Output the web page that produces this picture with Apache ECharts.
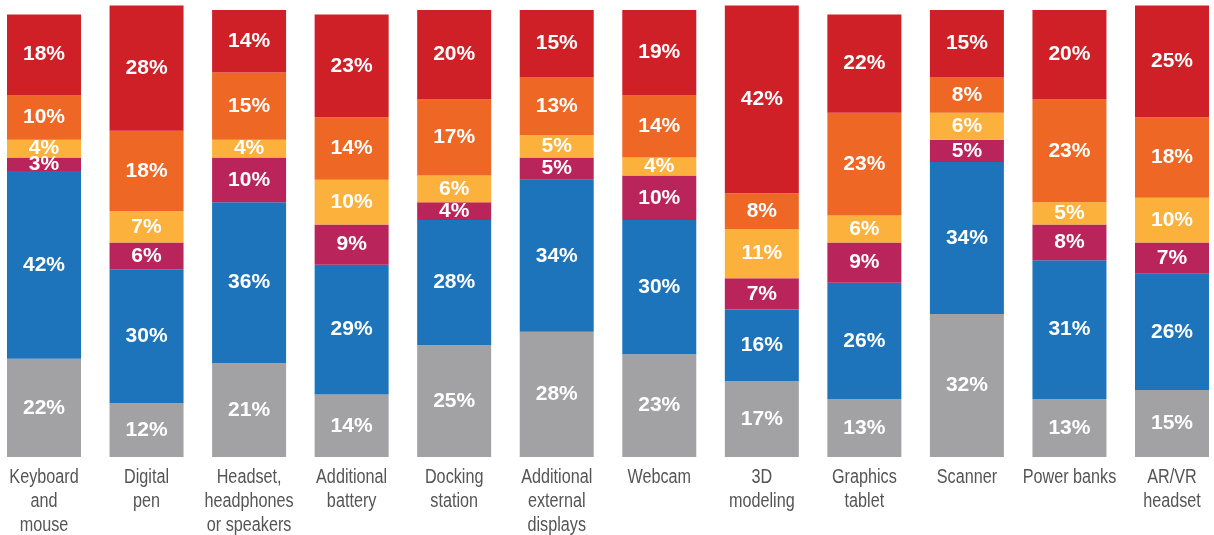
<!DOCTYPE html>
<html>
<head>
<meta charset="utf-8">
<style>
  html, body { margin: 0; padding: 0; background: #ffffff; overflow: hidden; }
  #chart { width: 1214px; height: 535px; }
</style>
<script src="https://cdn.jsdelivr.net/npm/echarts@6/dist/echarts.min.js"></script>
</head>
<body>
<div id="chart"></div>
<script>
// Accessory categories (x axis)
const categories = [
  'Keyboard\nand\nmouse', 'Digital\npen', 'Headset,\nheadphones\nor speakers',
  'Additional\nbattery', 'Docking\nstation', 'Additional\nexternal\ndisplays',
  'Webcam', '3D\nmodeling', 'Graphics\ntablet', 'Scanner', 'Power banks', 'AR/VR\nheadset'
];

// Shares (%) per segment, bottom to top of each stack
const greyShare    = [22, 12, 21, 14, 25, 28, 23, 17, 13, 32, 13, 15];
const blueShare    = [42, 30, 36, 29, 28, 34, 30, 16, 26, 34, 31, 26];
const crimsonShare = [3, 6, 10, 9, 4, 5, 10, 7, 9, 5, 8, 7];
const yellowShare  = [4, 7, 4, 10, 6, 5, 4, 11, 6, 6, 5, 10];
const orangeShare  = [10, 18, 15, 14, 17, 13, 14, 8, 23, 8, 23, 18];
const redShare     = [18, 28, 14, 23, 20, 15, 19, 42, 22, 15, 20, 25];

const segments = [
  { name: 'grey',    data: greyShare,    color: '#A2A2A5' },
  { name: 'blue',    data: blueShare,    color: '#1D74BB' },
  { name: 'crimson', data: crimsonShare, color: '#B9255A' },
  { name: 'yellow',  data: yellowShare,  color: '#FBB13C' },
  { name: 'orange',  data: orangeShare,  color: '#EE6724' },
  { name: 'red',     data: redShare,     color: '#CF2028' }
];

const chart = echarts.init(document.getElementById('chart'), null, { renderer: 'canvas' });

chart.setOption({
  animation: false,
  // first and last category centres sit on the grid edges (boundaryGap: false)
  grid: { left: 44, right: 42, top: 10, height: 447, containLabel: false },
  xAxis: {
    type: 'category',
    data: categories,
    boundaryGap: false,
    axisLine: { show: false },
    axisTick: { show: false },
    splitLine: { show: false },
    axisLabel: { show: false }
  },
  yAxis: {
    type: 'value',
    min: 0,
    max: 100,
    show: false,
    splitLine: { show: false }
  },
  series: segments.map(s => ({
    name: s.name,
    type: 'bar',
    stack: 'share',
    barWidth: 74,
    clip: false,
    data: s.data,
    itemStyle: { color: s.color },
    label: {
      show: true,
      position: 'inside',
      formatter: '{c}%',
      color: '#ffffff',
      fontFamily: '"Liberation Sans", Arial, sans-serif',
      fontWeight: 'bold',
      fontSize: 21
    }
  }))
});

// Category names in a condensed style: text placed under each category
// position from the axis scale and squeezed horizontally.
const baseY = chart.convertToPixel({ yAxisIndex: 0 }, 0);
chart.setOption({
  graphic: categories.map((name, i) => ({
    type: 'text',
    x: chart.convertToPixel({ xAxisIndex: 0 }, i),
    y: baseY + 8,
    scaleX: 0.81,
    silent: true,
    style: {
      text: name,
      fill: '#555555',
      font: '20px "Liberation Sans", Arial, sans-serif',
      align: 'center',
      textAlign: 'center',
      verticalAlign: 'top',
      textVerticalAlign: 'top',
      lineHeight: 24
    }
  }))
});
</script>
</body>
</html>
